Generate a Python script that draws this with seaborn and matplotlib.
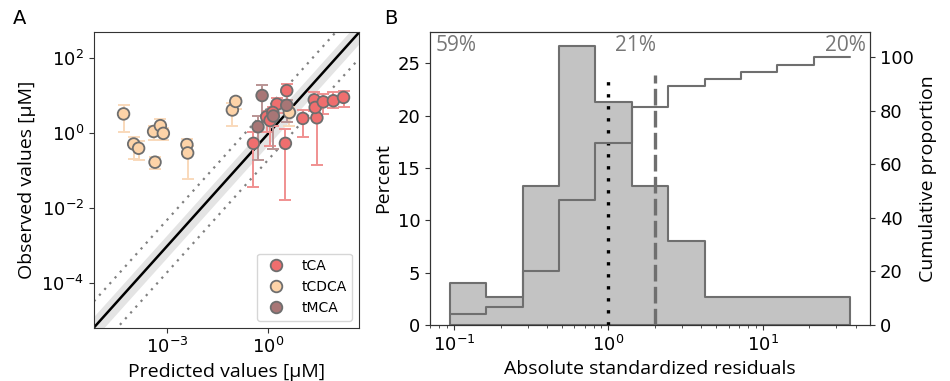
import numpy as np
import pandas as pd
import matplotlib
matplotlib.use("Agg")
import matplotlib.pyplot as plt
import matplotlib.ticker as mticker
import seaborn as sns

# Panel A: predicted vs observed concentrations [uM]
acid = ["tCDCA"] * 12 + ["tCA"] * 14 + ["tMCA"] * 4
predicted = [5.0e-5, 1.0e-4, 1.4e-4, 3.9e-4, 6.2e-4, 7.6e-4, 4.3e-4, 3.8e-3, 4.0e-3, 0.085, 0.107, 4.2,
             3.5, 1.8, 0.89, 1.35, 1.12, 0.36, 3.2, 10.5, 27.5, 23.0, 24.5, 42.5, 85.0, 170.0,
             0.65, 0.49, 1.4, 3.5]
observed = [3.3, 0.52, 0.40, 1.12, 1.6, 1.0, 0.17, 0.50, 0.30, 4.2, 7.1, 3.6,
            13.8, 6.0, 2.75, 3.6, 2.2, 0.54, 0.54, 2.5, 2.6, 7.8, 4.9, 6.9, 7.4, 9.1,
            10.2, 1.5, 2.9, 5.6]
obs_low = [1.1, 0.21, 0.20, 0.66, 1.0, 0.65, 0.11, 0.28, 0.062, 1.6, 4.5, 1.6,
           6.2, 3.5, 1.07, 1.6, 0.45, 0.036, 0.017, 0.78, 0.14, 4.0, 2.5, 3.3, 4.8, 5.1,
           2.0, 0.19, 0.38, 2.0]
obs_high = [5.6, 0.81, 0.62, 1.6, 2.4, 1.4, 0.23, 0.71, 0.45, 6.3, 8.9, 5.0,
            21.0, 8.9, 4.0, 5.0, 3.2, 1.1, 1.3, 4.2, 4.5, 12.9, 7.9, 11.2, 12.3, 13.8,
            19.5, 2.9, 4.5, 7.9]
acid_order = ["tCA", "tCDCA", "tMCA"]

# Panel B: histogram of absolute standardized residuals
bin_edges = [0.0938, 0.1614, 0.278, 0.478, 0.822, 1.416, 2.44, 4.20, 7.21, 12.4, 21.4, 36.8]
bin_percent = [4.0, 2.67, 13.33, 26.67, 21.33, 13.33, 8.0, 2.67, 2.67, 2.67, 2.67]
region_labels = ["59%", "21%", "20%"]

df = pd.DataFrame({"acid": acid, "predicted": predicted, "observed": observed,
                   "low": obs_low, "high": obs_high})

edges = np.array(bin_edges)
hist_df = pd.DataFrame({"residual": np.sqrt(edges[:-1] * edges[1:]),
                        "percent": bin_percent})
log_bins = list(np.log10(edges))

sns.set_style("ticks", {"axes.edgecolor": "0.2", "xtick.color": "0.2", "ytick.color": "0.2",
                        "text.color": "black", "axes.labelcolor": "black"})
plt.rcParams['font.family'] = ['DejaVu Sans']
plt.rcParams['xtick.labelsize'] = 13
plt.rcParams['ytick.labelsize'] = 13
plt.rcParams['xtick.labelcolor'] = 'black'
plt.rcParams['ytick.labelcolor'] = 'black'
label_font = dict(family=['Open Sans', 'DejaVu Sans'], fontsize=14, color='black')

palette = {"tCA": "#ef6e6e", "tCDCA": "#fdd3a8", "tMCA": "#a87676"}
err_colors = {"tCA": "#f09090", "tCDCA": "#f9d9bb", "tMCA": "#b99494"}

fig = plt.figure(figsize=(9.5, 3.81), dpi=100)
axA = fig.add_axes([0.0989, 0.1404, 0.279, 0.7743])
axB = fig.add_axes([0.4526, 0.147, 0.4632, 0.769])

# --- A ---
axA.set_xscale('log')
axA.set_yscale('log')
lim = np.array([10 ** -5.18, 10 ** 2.69])
axA.fill_between(lim, lim / 2, lim * 2, color='#e4e4e4', lw=0, zorder=1)
axA.plot(lim, lim, color='black', lw=1.8, zorder=1.5)
axA.plot(lim, lim * 5, ls=(0, (1, 2.5)), color='#808080', lw=1.6, zorder=1.5)
axA.plot(lim, lim / 5, ls=(0, (1, 2.5)), color='#808080', lw=1.6, zorder=1.5)

for name in ["tCDCA", "tCA", "tMCA"]:
    sub = df[df.acid == name]
    axA.errorbar(sub.predicted, sub.observed,
                 yerr=[sub.observed - sub.low, sub.high - sub.observed],
                 fmt='none', ecolor=err_colors[name], elinewidth=1.4,
                 capsize=4, capthick=1.4, zorder=2)

sns.scatterplot(data=df, x='predicted', y='observed', hue='acid', hue_order=acid_order,
                palette=palette, s=70, edgecolor='#6e6e6e', linewidth=1.3, ax=axA, zorder=3)
axA.set_xlim(lim)
axA.set_ylim(lim)
axA.set_xticks([1e-3, 1e0])
axA.set_yticks([1e-4, 1e-2, 1e0, 1e2])
axA.xaxis.set_minor_locator(mticker.NullLocator())
axA.yaxis.set_minor_locator(mticker.NullLocator())
axA.set_xlabel('Predicted values [μM]', **label_font)
axA.set_ylabel('Observed values [μM]', **label_font)
sns.move_legend(axA, 'lower right', title=None, fontsize=10, frameon=True)

# --- B ---
sns.histplot(data=hist_df, x='residual', weights='percent', bins=log_bins, log_scale=True,
             stat='percent', element='step', fill=True, color='#c3c3c3',
             edgecolor='#6f6f6f', linewidth=1.5, alpha=1, ax=axB)
axB.axvline(1, ymax=0.853, color='black', lw=2.4, ls=(0, (1, 2.6)))
axB.axvline(2, ymax=0.853, color='#6f6f6f', lw=2.4, ls=(0, (5, 1.6)))
axB.set_xlabel('Absolute standardized residuals', **label_font)
axB.set_ylabel('Percent', **label_font)

axC = axB.twinx()
sns.histplot(data=hist_df, x='residual', weights='percent', bins=log_bins, log_scale=True,
             stat='percent', cumulative=True, element='step', fill=False,
             color='#6f6f6f', linewidth=1.5, ax=axC)
axC.set_ylim(0, 109.5)
axC.set_ylabel('Cumulative proportion', **label_font)

txt = dict(transform=axB.transAxes, va='top', color='#777777',
           family=['Open Sans', 'DejaVu Sans'], fontsize=15)
axB.text(0.012, 0.99, region_labels[0], ha='left', **txt)
axB.text(0.42, 0.99, region_labels[1], ha='left', **txt)
axB.text(0.991, 0.99, region_labels[2], ha='right', **txt)

fig.text(13 / 950, 1 - 9 / 381, 'A', va='top', ha='left', fontsize=14)
fig.text(384 / 950, 1 - 9 / 381, 'B', va='top', ha='left', fontsize=14)

fig.savefig('out.png', dpi=100)
